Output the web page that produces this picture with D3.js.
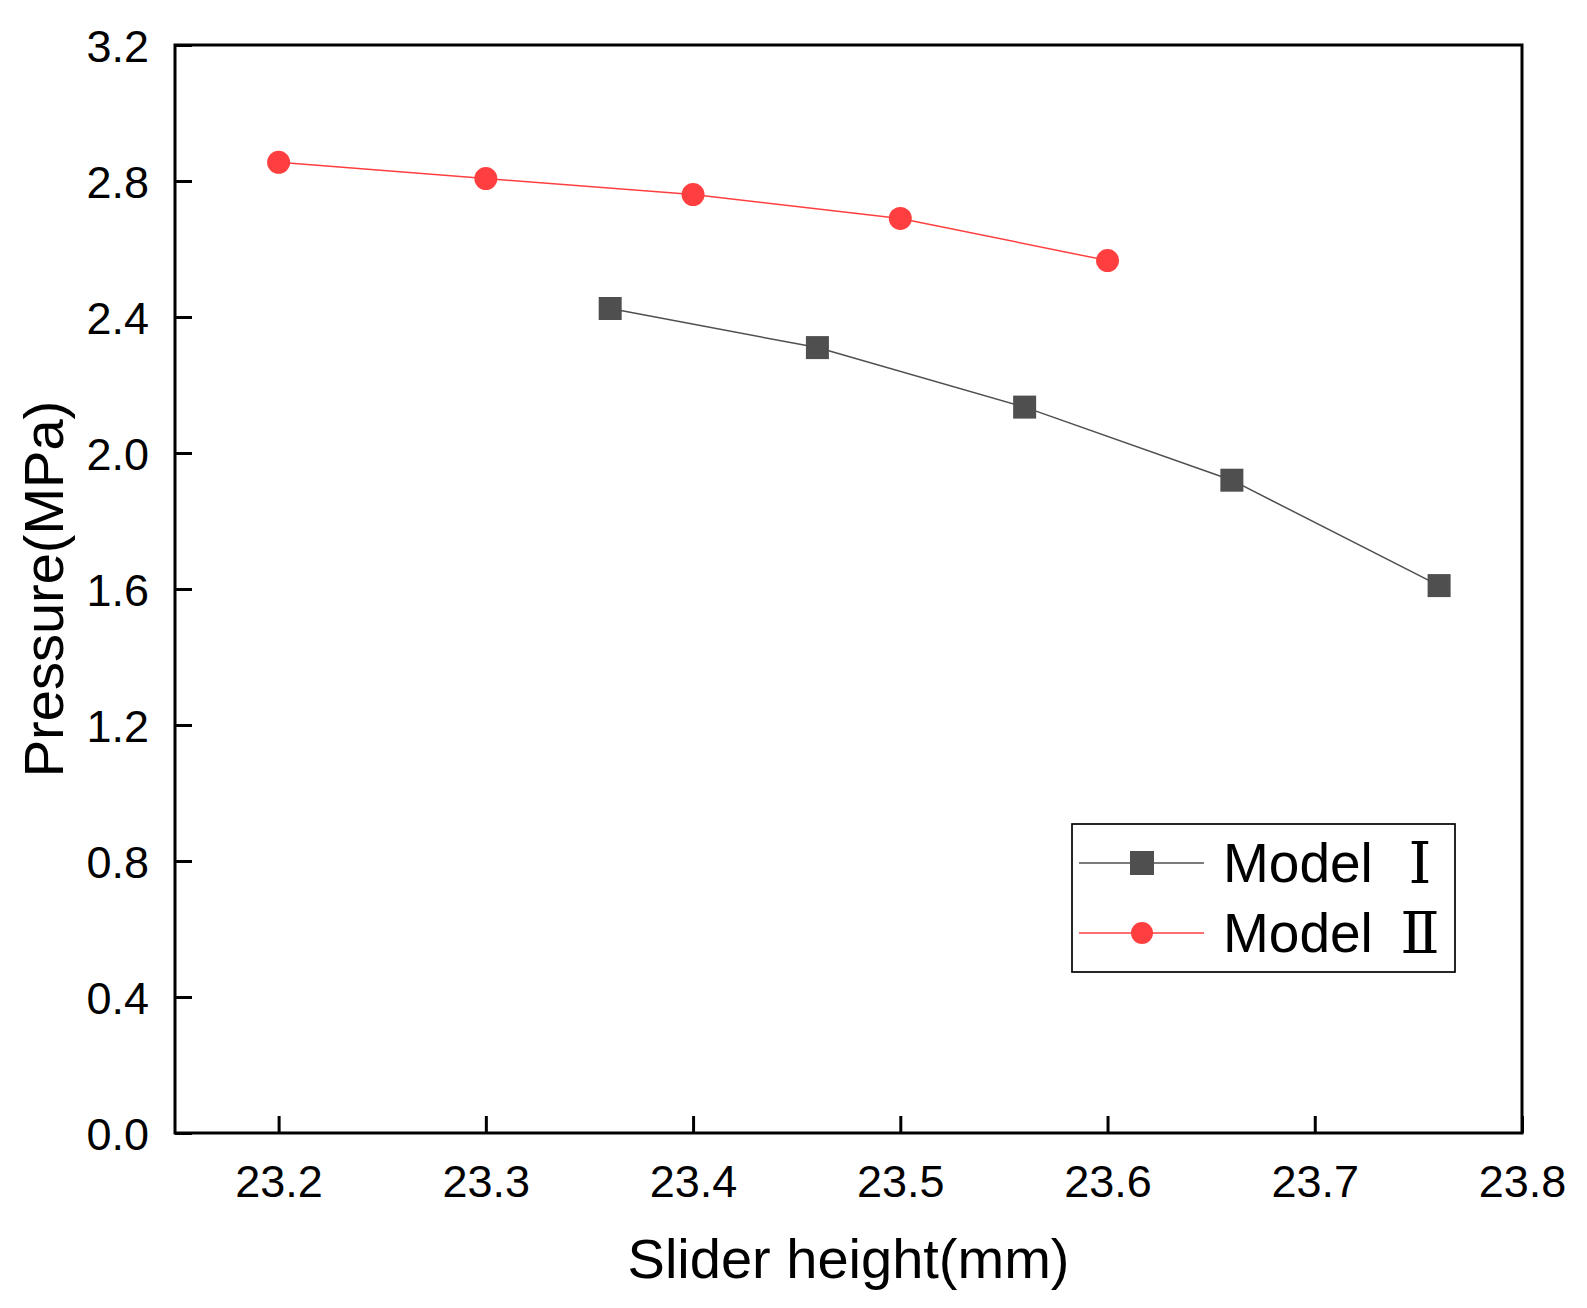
<!DOCTYPE html>
<html>
<head>
<meta charset="utf-8">
<script src="https://cdn.jsdelivr.net/npm/d3@7"></script>
<style>
  body { margin: 0; background: #fff; }
  text { font-family: "Liberation Sans", Arial, sans-serif; fill: #000; }
</style>
</head>
<body>
<svg id="chart" width="1587" height="1308"></svg>
<script>
// data
var heightsI = [23.36, 23.46, 23.56, 23.66, 23.76];
var pressureI = [2.425, 2.31, 2.135, 1.92, 1.61];
var heightsII = [23.2, 23.3, 23.4, 23.5, 23.6];
var pressureII = [2.855, 2.807, 2.76, 2.69, 2.566];
var xTicks = [23.2, 23.3, 23.4, 23.5, 23.6, 23.7, 23.8];
var yTicks = [0, 0.4, 0.8, 1.2, 1.6, 2.0, 2.4, 2.8, 3.2];
var seriesNames = ['Model', 'Model'];
var romanNums = ['\u2160', '\u2161'];

var plotL = 175, plotR = 1522, plotT = 45, plotB = 1133;

var svg = d3.select('#chart');

var x = d3.scaleLinear().domain([23.15, 23.8]).range([plotL, plotR]);
var y = d3.scaleLinear().domain([0, 3.2]).range([plotB, plotT]);

// frame
svg.append('rect')
  .attr('x', plotL).attr('y', plotT)
  .attr('width', plotR - plotL).attr('height', plotB - plotT)
  .attr('fill', 'none').attr('stroke', '#000').attr('stroke-width', 3);

var xAxis = svg.append('g')
  .attr('transform', 'translate(0,' + plotB + ')')
  .call(d3.axisBottom(x).tickValues(xTicks).tickSize(-17).tickPadding(32)
    .tickFormat(d3.format('.1f')));

var yAxis = svg.append('g')
  .attr('transform', 'translate(' + plotL + ',0)')
  .call(d3.axisLeft(y).tickValues(yTicks).tickSize(-17).tickPadding(26)
    .tickFormat(d3.format('.1f')));

[xAxis, yAxis].forEach(function(ax) {
  ax.select('.domain').remove();
  ax.selectAll('.tick line').attr('stroke', '#000').attr('stroke-width', 3);
  ax.selectAll('.tick text')
    .style('font-family', '"Liberation Sans", Arial, sans-serif')
    .style('font-size', '45px')
    .attr('fill', '#000');
});
xAxis.selectAll('.tick text').attr('dy', '0.71em');
yAxis.selectAll('.tick text').attr('dy', '0.36em');

// axis titles
svg.append('text')
  .attr('x', (plotL + plotR) / 2).attr('y', 1278)
  .attr('text-anchor', 'middle')
  .style('font-size', '56px')
  .text('Slider height(mm)');

svg.append('text')
  .attr('transform', 'translate(63,' + (plotT + plotB) / 2 + ') rotate(-90)')
  .attr('text-anchor', 'middle')
  .style('font-size', '56px')
  .text('Pressure(MPa)');

var line = d3.line()
  .x(function(d) { return x(d[0]); })
  .y(function(d) { return y(d[1]); });

var dataI = d3.zip(heightsI, pressureI);
var dataII = d3.zip(heightsII, pressureII);

var grey = '#4f4f4f', red = '#ff3f3f';

svg.append('path').datum(dataI)
  .attr('d', line).attr('fill', 'none')
  .attr('stroke', grey).attr('stroke-width', 1.5);

svg.append('path').datum(dataII)
  .attr('d', line).attr('fill', 'none')
  .attr('stroke', red).attr('stroke-width', 1.5);

svg.selectAll('rect.ptI').data(dataI).enter()
  .append('rect').attr('class', 'ptI')
  .attr('x', function(d) { return x(d[0]) - 11.5; })
  .attr('y', function(d) { return y(d[1]) - 11.5; })
  .attr('width', 23).attr('height', 23)
  .attr('fill', grey);

svg.selectAll('circle.ptII').data(dataII).enter()
  .append('circle').attr('class', 'ptII')
  .attr('cx', function(d) { return x(d[0]); })
  .attr('cy', function(d) { return y(d[1]); })
  .attr('r', 11.5)
  .attr('fill', red);

// legend
var legend = svg.append('g');
legend.append('rect')
  .attr('x', 1072).attr('y', 824)
  .attr('width', 383).attr('height', 148)
  .attr('fill', '#fff').attr('stroke', '#000').attr('stroke-width', 1.7);

var rows = [863, 933];
var colors = [grey, red];

rows.forEach(function(ry, i) {
  legend.append('line')
    .attr('x1', 1079).attr('x2', 1204).attr('y1', ry).attr('y2', ry)
    .attr('stroke', colors[i]).attr('stroke-width', 1.7);
  if (i === 0) {
    legend.append('rect')
      .attr('x', 1142 - 12).attr('y', ry - 12)
      .attr('width', 24).attr('height', 24).attr('fill', grey);
  } else {
    legend.append('circle')
      .attr('cx', 1142).attr('cy', ry).attr('r', 11).attr('fill', red);
  }
  legend.append('text')
    .attr('x', 1223).attr('y', ry + 19)
    .style('font-size', '55px')
    .text(seriesNames[i]);
  legend.append('text')
    .attr('x', 1420).attr('y', ry + 20)
    .attr('text-anchor', 'middle')
    .style('font-family', '"DejaVu Serif", "Liberation Serif", serif')
    .style('font-size', '58px')
    .text(romanNums[i]);
});
</script>
</body>
</html>
